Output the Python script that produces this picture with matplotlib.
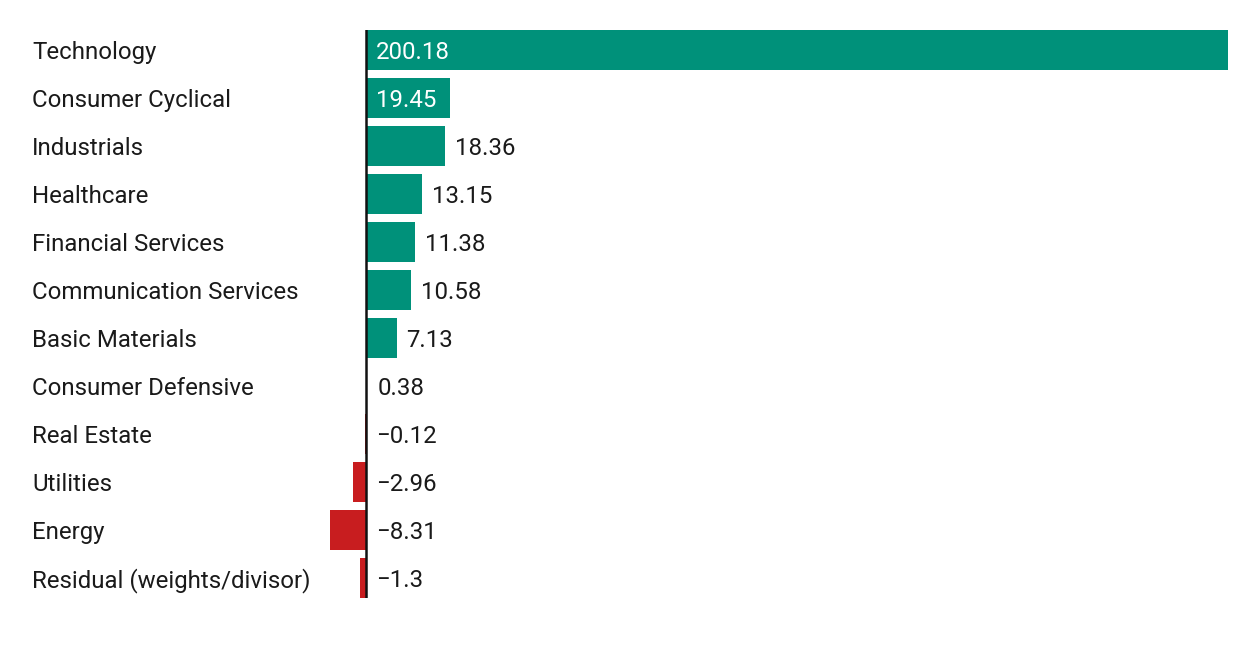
import matplotlib
matplotlib.use("Agg")
import matplotlib.pyplot as plt
from matplotlib import transforms

sectors = [
    "Technology", "Consumer Cyclical", "Industrials", "Healthcare",
    "Financial Services", "Communication Services", "Basic Materials",
    "Consumer Defensive", "Real Estate", "Utilities", "Energy",
    "Residual (weights/divisor)",
]
contrib = [200.18, 19.45, 18.36, 13.15, 11.38, 10.58, 7.13, 0.38,
           -0.12, -2.96, -8.31, -1.3]
labels = ["200.18", "19.45", "18.36", "13.15", "11.38", "10.58", "7.13",
          "0.38", "\u22120.12", "\u22122.96", "\u22128.31", "\u22121.3"]

GREEN = "#00917A"
RED = "#C81D1F"
W, H = 1260, 660

plt.rcParams["font.family"] = ["Roboto", "DejaVu Sans"]

fig = plt.figure(figsize=(W / 100, H / 100), dpi=100)
# axes spans from the Energy bar end to the Technology bar end
left, right, top, bottom = 330, 1228, 30, 598
ax = fig.add_axes([left / W, 1 - bottom / H, (right - left) / W, (bottom - top) / H])

ys = list(range(len(sectors)))
colors = [GREEN if v >= 0 else RED for v in contrib]
ax.barh(ys, contrib, height=0.8333, color=colors, zorder=2)
ax.set_xlim(min(contrib), max(contrib))
ax.set_ylim(len(sectors) - 0.5833, -0.4167)
ax.axvline(0, color="#111111", lw=1.8, zorder=3)
for s in ax.spines.values():
    s.set_visible(False)
ax.set_xticks([])
ax.set_yticks([])

fs = 17.3
dy = 0.045  # nudge text down to sit centred on the bar
px = ax.transData.transform((1, 0))[0] - ax.transData.transform((0, 0))[0]
pad = 10 / px
lab_tr = transforms.blended_transform_factory(fig.transFigure, ax.transData)
for y, name, v, txt in zip(ys, sectors, contrib, labels):
    ax.text(32 / W, y + dy, name, transform=lab_tr, ha="left", va="center",
            fontsize=fs, color="#1a1a1a")
    if v >= 19:
        ax.text(pad, y + dy, txt, ha="left", va="center", fontsize=fs,
                color="white", zorder=4)
    else:
        ax.text(max(v, 0) + pad, y + dy, txt, ha="left", va="center", fontsize=fs,
                color="#1a1a1a", zorder=4)

fig.savefig("out.png", dpi=100, facecolor="white")
